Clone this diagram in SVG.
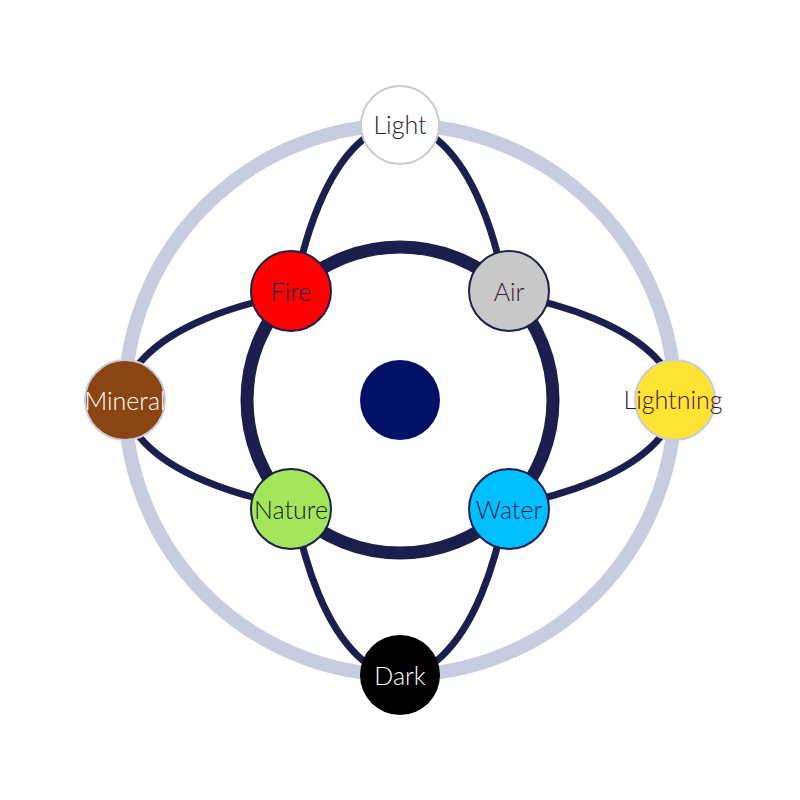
<svg xmlns="http://www.w3.org/2000/svg" width="800" height="800" viewBox="0 0 800 800">
<style>
.lbl{font-family:"Lato","Open Sans","Liberation Sans",sans-serif;font-weight:300;font-size:25px;text-anchor:middle;dominant-baseline:central}
.orbit{fill:none;stroke:#1a1f4d;stroke-width:7}
.node{stroke-width:2}
</style>
<rect width="800" height="800" fill="#ffffff"/>
<g id="connectors">
<circle cx="400" cy="400" r="275" fill="none" stroke="#c8cce0" stroke-width="14"/>
<ellipse class="orbit" cx="400" cy="400" rx="115" ry="275"/>
<ellipse class="orbit" cx="400" cy="400" rx="275" ry="115"/>
<circle cx="400" cy="400" r="153" fill="#ffffff" stroke="#1a1f4d" stroke-width="13"/>
</g>
<g id="core"><circle cx="400" cy="400" r="40" fill="#001166"/></g>
<g id="light"><circle class="node" cx="400" cy="125" r="39" fill="#ffffff" stroke="#cccccc"/><text class="lbl" x="400" y="124" fill="#2a1a2a">Light</text></g>
<g id="fire"><circle class="node" cx="291" cy="291" r="40" fill="#ff0000" stroke="#1a1f4d"/><text class="lbl" x="291" y="291" fill="#1a1f4d">Fire</text></g>
<g id="air"><circle class="node" cx="509" cy="291" r="40" fill="#c8c8c8" stroke="#1a1f4d"/><text class="lbl" x="509" y="291" fill="#3a1a3a">Air</text></g>
<g id="mineral"><circle class="node" cx="125" cy="400" r="40" fill="#8b4513" stroke="#c8cce0"/><text class="lbl" x="125" y="400" fill="#ffffff">Mineral</text></g>
<g id="lightning"><circle class="node" cx="675" cy="400" r="40" fill="#ffe433" stroke="#c8cce0"/><text class="lbl" x="673" y="399" fill="#3a1a3a">Lightning</text></g>
<g id="nature"><circle class="node" cx="291" cy="509" r="40" fill="#a4e65a" stroke="#1a1f4d"/><text class="lbl" x="291" y="509" fill="#1a1a2a">Nature</text></g>
<g id="water"><circle class="node" cx="509" cy="509" r="40" fill="#00bfff" stroke="#1a1f4d"/><text class="lbl" x="509" y="509" fill="#1a1f4d">Water</text></g>
<g id="dark"><circle cx="400" cy="675" r="40" fill="#000000"/><text class="lbl" x="400" y="675" fill="#ffffff">Dark</text></g>
</svg>
